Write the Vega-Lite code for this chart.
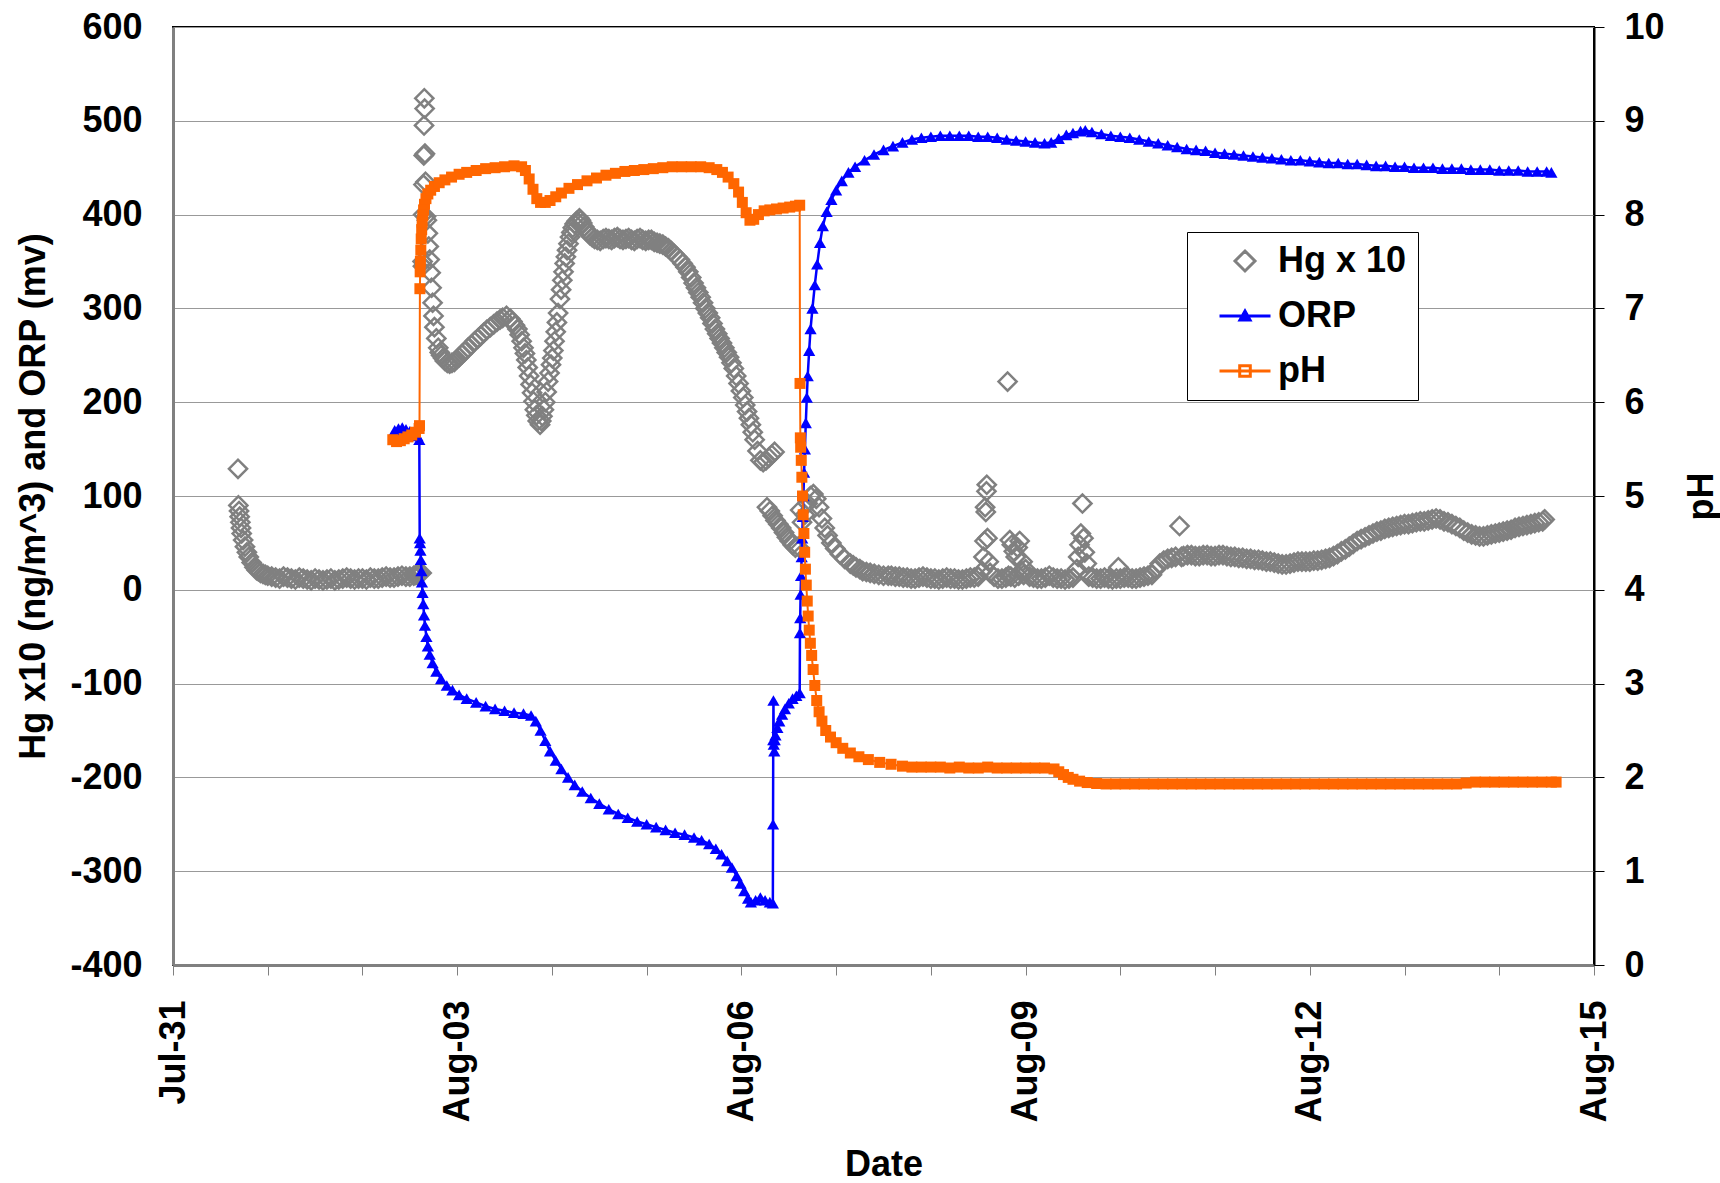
{
  "$schema": "https://vega.github.io/schema/vega-lite/v6.json",
  "width": 1421,
  "height": 938,
  "autosize": {"type": "none"},
  "padding": {"left": 173, "top": 27, "right": 126, "bottom": 218},
  "background": "#FFFFFF",
  "config": {
    "font": "Liberation Sans",
    "view": {"stroke": "#000000", "strokeWidth": 2},
    "axis": {
      "labelFont": "Liberation Sans", "labelFontSize": 36, "labelFontWeight": "bold", "labelColor": "#000000",
      "titleFont": "Liberation Sans", "titleFontSize": 36, "titleFontWeight": "bold", "titleColor": "#000000"
    }
  },
  "datasets": {
    "hg": [
      {"t":"2005-07-31 16:28","v":129},{"t":"2005-07-31 16:34","v":90},{"t":"2005-07-31 16:44","v":84},{"t":"2005-07-31 16:54","v":78},
      {"t":"2005-07-31 17:04","v":72},{"t":"2005-07-31 17:14","v":66},{"t":"2005-07-31 17:24","v":60},{"t":"2005-07-31 17:46","v":53},
      {"t":"2005-07-31 18:14","v":46},{"t":"2005-07-31 18:43","v":40},{"t":"2005-07-31 19:12","v":35},{"t":"2005-07-31 19:55","v":29},
      {"t":"2005-07-31 20:38","v":24},{"t":"2005-07-31 21:10","v":21},{"t":"2005-07-31 21:36","v":20},{"t":"2005-07-31 22:10","v":18},
      {"t":"2005-07-31 22:48","v":17},{"t":"2005-07-31 23:24","v":16},
      {"t":"2005-08-01 00:00","v":15},{"t":"2005-08-01 01:00","v":14},{"t":"2005-08-01 02:00","v":13},{"t":"2005-08-01 03:00","v":12},
      {"t":"2005-08-01 04:00","v":14},{"t":"2005-08-01 05:00","v":13},{"t":"2005-08-01 06:00","v":12},{"t":"2005-08-01 07:00","v":11},
      {"t":"2005-08-01 08:00","v":13},{"t":"2005-08-01 09:00","v":12},{"t":"2005-08-01 10:00","v":11},{"t":"2005-08-01 11:00","v":10},
      {"t":"2005-08-01 12:00","v":12},{"t":"2005-08-01 13:00","v":11},{"t":"2005-08-01 14:00","v":10},{"t":"2005-08-01 15:00","v":11},
      {"t":"2005-08-01 16:00","v":12},{"t":"2005-08-01 17:00","v":10},{"t":"2005-08-01 18:00","v":11},{"t":"2005-08-01 19:00","v":12},
      {"t":"2005-08-01 20:00","v":13},{"t":"2005-08-01 21:00","v":12},{"t":"2005-08-01 22:00","v":11},{"t":"2005-08-01 23:00","v":12},
      {"t":"2005-08-02 00:00","v":12},{"t":"2005-08-02 01:00","v":11},{"t":"2005-08-02 02:00","v":13},{"t":"2005-08-02 03:00","v":12},
      {"t":"2005-08-02 04:00","v":12},{"t":"2005-08-02 05:00","v":13},{"t":"2005-08-02 06:00","v":14},{"t":"2005-08-02 07:00","v":13},
      {"t":"2005-08-02 08:00","v":13},{"t":"2005-08-02 09:00","v":14},{"t":"2005-08-02 10:00","v":15},{"t":"2005-08-02 11:00","v":14},
      {"t":"2005-08-02 12:00","v":14},{"t":"2005-08-02 13:00","v":15},{"t":"2005-08-02 13:30","v":16},{"t":"2005-08-02 14:00","v":16},
      {"t":"2005-08-02 14:30","v":17},{"t":"2005-08-02 15:00","v":18},
      {"t":"2005-08-02 15:14","v":350},{"t":"2005-08-02 15:19","v":345},{"t":"2005-08-02 15:23","v":400},{"t":"2005-08-02 15:27","v":432},
      {"t":"2005-08-02 15:32","v":463},{"t":"2005-08-02 15:36","v":495},{"t":"2005-08-02 15:40","v":524},{"t":"2005-08-02 15:45","v":513},
      {"t":"2005-08-02 15:50","v":465},{"t":"2005-08-02 15:58","v":435},{"t":"2005-08-02 16:05","v":398},{"t":"2005-08-02 16:19","v":394},
      {"t":"2005-08-02 16:34","v":380},{"t":"2005-08-02 16:48","v":366},{"t":"2005-08-02 17:02","v":352},{"t":"2005-08-02 17:17","v":338},
      {"t":"2005-08-02 17:31","v":322},{"t":"2005-08-02 17:46","v":306},{"t":"2005-08-02 18:00","v":292},{"t":"2005-08-02 18:14","v":280},
      {"t":"2005-08-02 18:43","v":268},{"t":"2005-08-02 19:12","v":258},{"t":"2005-08-02 19:35","v":253},{"t":"2005-08-02 19:55","v":250},
      {"t":"2005-08-02 20:25","v":247},{"t":"2005-08-02 20:53","v":244},{"t":"2005-08-02 21:30","v":242},{"t":"2005-08-02 22:05","v":241},
      {"t":"2005-08-02 22:40","v":242},{"t":"2005-08-02 23:17","v":243},{"t":"2005-08-02 23:55","v":246},
      {"t":"2005-08-03 00:29","v":248},{"t":"2005-08-03 01:10","v":251},{"t":"2005-08-03 01:55","v":254},{"t":"2005-08-03 02:45","v":258},
      {"t":"2005-08-03 03:36","v":261},{"t":"2005-08-03 04:25","v":265},{"t":"2005-08-03 05:17","v":268},{"t":"2005-08-03 06:00","v":271},
      {"t":"2005-08-03 06:43","v":274},{"t":"2005-08-03 07:30","v":277},{"t":"2005-08-03 08:24","v":280},{"t":"2005-08-03 09:15","v":283},
      {"t":"2005-08-03 10:05","v":286},{"t":"2005-08-03 10:50","v":288},{"t":"2005-08-03 11:31","v":290},{"t":"2005-08-03 12:29","v":292},
      {"t":"2005-08-03 13:26","v":289},{"t":"2005-08-03 14:00","v":286},{"t":"2005-08-03 14:38","v":282},{"t":"2005-08-03 15:15","v":278},
      {"t":"2005-08-03 15:50","v":272},{"t":"2005-08-03 16:20","v":265},{"t":"2005-08-03 16:48","v":258},{"t":"2005-08-03 17:10","v":252},
      {"t":"2005-08-03 17:31","v":245},{"t":"2005-08-03 17:52","v":237},{"t":"2005-08-03 18:14","v":228},{"t":"2005-08-03 18:36","v":219},
      {"t":"2005-08-03 18:58","v":210},{"t":"2005-08-03 19:20","v":201},{"t":"2005-08-03 19:41","v":192},{"t":"2005-08-03 20:02","v":186},
      {"t":"2005-08-03 20:24","v":180},{"t":"2005-08-03 21:00","v":176},{"t":"2005-08-03 21:18","v":180},{"t":"2005-08-03 21:36","v":185},
      {"t":"2005-08-03 21:58","v":192},{"t":"2005-08-03 22:19","v":200},{"t":"2005-08-03 22:40","v":211},{"t":"2005-08-03 23:02","v":222},
      {"t":"2005-08-03 23:24","v":231},{"t":"2005-08-03 23:46","v":240},
      {"t":"2005-08-04 00:05","v":247},{"t":"2005-08-04 00:22","v":255},{"t":"2005-08-04 00:40","v":265},{"t":"2005-08-04 00:58","v":275},
      {"t":"2005-08-04 01:16","v":285},{"t":"2005-08-04 01:34","v":295},{"t":"2005-08-04 02:02","v":310},{"t":"2005-08-04 02:20","v":320},
      {"t":"2005-08-04 02:38","v":330},{"t":"2005-08-04 02:56","v":339},{"t":"2005-08-04 03:14","v":348},{"t":"2005-08-04 03:32","v":355},
      {"t":"2005-08-04 03:50","v":362},{"t":"2005-08-04 04:12","v":369},{"t":"2005-08-04 04:34","v":376},{"t":"2005-08-04 04:55","v":381},
      {"t":"2005-08-04 05:17","v":386},{"t":"2005-08-04 05:45","v":390},{"t":"2005-08-04 06:14","v":393},{"t":"2005-08-04 06:58","v":396},
      {"t":"2005-08-04 07:20","v":394},{"t":"2005-08-04 07:41","v":391},{"t":"2005-08-04 08:10","v":387},{"t":"2005-08-04 08:38","v":384},
      {"t":"2005-08-04 09:05","v":381},{"t":"2005-08-04 09:36","v":378},{"t":"2005-08-04 10:12","v":376},{"t":"2005-08-04 10:48","v":374},
      {"t":"2005-08-04 11:30","v":373},{"t":"2005-08-04 12:14","v":372},{"t":"2005-08-04 13:00","v":374},{"t":"2005-08-04 13:41","v":375},
      {"t":"2005-08-04 14:25","v":374},{"t":"2005-08-04 15:07","v":373},{"t":"2005-08-04 15:50","v":375},{"t":"2005-08-04 16:34","v":376},
      {"t":"2005-08-04 17:15","v":374},{"t":"2005-08-04 18:00","v":373},{"t":"2005-08-04 18:45","v":374},{"t":"2005-08-04 19:26","v":375},
      {"t":"2005-08-04 20:10","v":373},{"t":"2005-08-04 20:53","v":372},{"t":"2005-08-04 21:35","v":374},{"t":"2005-08-04 22:19","v":375},
      {"t":"2005-08-04 23:00","v":373},{"t":"2005-08-04 23:46","v":372},
      {"t":"2005-08-05 00:30","v":373},{"t":"2005-08-05 01:12","v":373},{"t":"2005-08-05 01:55","v":371},{"t":"2005-08-05 02:38","v":370},
      {"t":"2005-08-05 03:20","v":369},{"t":"2005-08-05 04:05","v":368},{"t":"2005-08-05 04:48","v":366},{"t":"2005-08-05 05:31","v":364},
      {"t":"2005-08-05 06:15","v":361},{"t":"2005-08-05 06:58","v":358},{"t":"2005-08-05 07:40","v":355},{"t":"2005-08-05 08:24","v":352},
      {"t":"2005-08-05 09:07","v":348},{"t":"2005-08-05 09:50","v":344},{"t":"2005-08-05 10:33","v":339},{"t":"2005-08-05 11:17","v":333},
      {"t":"2005-08-05 11:53","v":327},{"t":"2005-08-05 12:29","v":322},{"t":"2005-08-05 13:05","v":317},{"t":"2005-08-05 13:41","v":312},
      {"t":"2005-08-05 14:17","v":306},{"t":"2005-08-05 14:53","v":300},{"t":"2005-08-05 15:29","v":295},{"t":"2005-08-05 16:05","v":290},
      {"t":"2005-08-05 16:41","v":284},{"t":"2005-08-05 17:17","v":278},{"t":"2005-08-05 17:53","v":273},{"t":"2005-08-05 18:29","v":268},
      {"t":"2005-08-05 19:05","v":263},{"t":"2005-08-05 19:41","v":258},{"t":"2005-08-05 20:17","v":253},{"t":"2005-08-05 20:53","v":248},
      {"t":"2005-08-05 21:29","v":242},{"t":"2005-08-05 22:05","v":236},{"t":"2005-08-05 22:41","v":228},{"t":"2005-08-05 23:17","v":220},
      {"t":"2005-08-05 23:53","v":212},
      {"t":"2005-08-06 00:29","v":205},{"t":"2005-08-06 00:58","v":197},{"t":"2005-08-06 01:26","v":190},{"t":"2005-08-06 01:55","v":183},
      {"t":"2005-08-06 02:24","v":176},{"t":"2005-08-06 02:53","v":168},{"t":"2005-08-06 03:22","v":160},{"t":"2005-08-06 04:05","v":148},
      {"t":"2005-08-06 04:48","v":138},{"t":"2005-08-06 05:31","v":136},{"t":"2005-08-06 06:14","v":138},{"t":"2005-08-06 06:58","v":141},
      {"t":"2005-08-06 07:41","v":144},{"t":"2005-08-06 08:24","v":147},
      {"t":"2005-08-06 06:29","v":88},{"t":"2005-08-06 07:12","v":84},{"t":"2005-08-06 07:55","v":79},{"t":"2005-08-06 08:38","v":74},
      {"t":"2005-08-06 09:22","v":70},{"t":"2005-08-06 10:05","v":66},{"t":"2005-08-06 10:48","v":61},{"t":"2005-08-06 11:31","v":56},
      {"t":"2005-08-06 12:14","v":52},{"t":"2005-08-06 12:58","v":48},{"t":"2005-08-06 13:41","v":45},{"t":"2005-08-06 14:24","v":46},
      {"t":"2005-08-06 14:53","v":85},{"t":"2005-08-06 15:22","v":72},{"t":"2005-08-06 16:05","v":80},{"t":"2005-08-06 16:48","v":92},
      {"t":"2005-08-06 17:31","v":100},{"t":"2005-08-06 18:14","v":102},{"t":"2005-08-06 18:58","v":97},{"t":"2005-08-06 19:41","v":88},
      {"t":"2005-08-06 20:24","v":76},{"t":"2005-08-06 21:07","v":66},{"t":"2005-08-06 21:50","v":58},{"t":"2005-08-06 22:48","v":50},
      {"t":"2005-08-06 23:46","v":44},
      {"t":"2005-08-07 00:58","v":38},{"t":"2005-08-07 02:10","v":33},{"t":"2005-08-07 03:36","v":28},{"t":"2005-08-07 04:20","v":26},
      {"t":"2005-08-07 05:02","v":24},{"t":"2005-08-07 06:00","v":22},{"t":"2005-08-07 06:43","v":20},{"t":"2005-08-07 07:40","v":19},
      {"t":"2005-08-07 08:38","v":18},{"t":"2005-08-07 09:40","v":17},{"t":"2005-08-07 10:48","v":16},{"t":"2005-08-07 12:00","v":15},
      {"t":"2005-08-07 13:12","v":15},{"t":"2005-08-07 14:00","v":15},{"t":"2005-08-07 15:00","v":14},{"t":"2005-08-07 16:00","v":14},
      {"t":"2005-08-07 17:00","v":13},{"t":"2005-08-07 18:00","v":13},{"t":"2005-08-07 19:00","v":12},{"t":"2005-08-07 20:00","v":12},
      {"t":"2005-08-07 21:00","v":13},{"t":"2005-08-07 22:00","v":14},{"t":"2005-08-07 23:00","v":13},
      {"t":"2005-08-08 00:00","v":12},{"t":"2005-08-08 01:00","v":12},{"t":"2005-08-08 02:00","v":11},{"t":"2005-08-08 03:00","v":12},
      {"t":"2005-08-08 04:00","v":13},{"t":"2005-08-08 05:00","v":12},{"t":"2005-08-08 06:00","v":12},{"t":"2005-08-08 07:00","v":11},
      {"t":"2005-08-08 08:00","v":11},{"t":"2005-08-08 09:00","v":12},{"t":"2005-08-08 10:00","v":13},{"t":"2005-08-08 11:00","v":13},
      {"t":"2005-08-08 12:00","v":14},{"t":"2005-08-08 13:00","v":20},{"t":"2005-08-08 13:20","v":35},{"t":"2005-08-08 13:35","v":52},
      {"t":"2005-08-08 13:45","v":88},{"t":"2005-08-08 13:55","v":83},{"t":"2005-08-08 14:05","v":105},{"t":"2005-08-08 14:10","v":112},
      {"t":"2005-08-08 14:20","v":55},{"t":"2005-08-08 14:40","v":30},{"t":"2005-08-08 15:00","v":18},{"t":"2005-08-08 16:00","v":14},
      {"t":"2005-08-08 17:00","v":12},{"t":"2005-08-08 18:00","v":12},{"t":"2005-08-08 19:00","v":13},{"t":"2005-08-08 19:26","v":222},
      {"t":"2005-08-08 19:40","v":15},{"t":"2005-08-08 20:00","v":53},{"t":"2005-08-08 20:15","v":14},{"t":"2005-08-08 20:30","v":48},
      {"t":"2005-08-08 21:00","v":41},{"t":"2005-08-08 21:15","v":13},{"t":"2005-08-08 21:30","v":35},{"t":"2005-08-08 22:00","v":45},
      {"t":"2005-08-08 22:15","v":15},{"t":"2005-08-08 22:30","v":52},{"t":"2005-08-08 23:00","v":20},{"t":"2005-08-08 23:15","v":30},
      {"t":"2005-08-08 23:30","v":16},
      {"t":"2005-08-09 00:00","v":22},{"t":"2005-08-09 01:00","v":14},{"t":"2005-08-09 02:00","v":13},{"t":"2005-08-09 03:00","v":12},
      {"t":"2005-08-09 04:00","v":12},{"t":"2005-08-09 05:00","v":13},{"t":"2005-08-09 06:00","v":15},{"t":"2005-08-09 07:00","v":13},
      {"t":"2005-08-09 08:00","v":12},{"t":"2005-08-09 09:00","v":12},{"t":"2005-08-09 10:00","v":11},{"t":"2005-08-09 11:00","v":12},
      {"t":"2005-08-09 12:00","v":13},{"t":"2005-08-09 13:00","v":22},{"t":"2005-08-09 13:20","v":35},{"t":"2005-08-09 13:40","v":48},
      {"t":"2005-08-09 14:00","v":60},{"t":"2005-08-09 14:24","v":92},{"t":"2005-08-09 14:40","v":55},{"t":"2005-08-09 15:00","v":40},
      {"t":"2005-08-09 15:30","v":28},{"t":"2005-08-09 16:00","v":14},{"t":"2005-08-09 17:00","v":13},{"t":"2005-08-09 18:00","v":12},
      {"t":"2005-08-09 19:00","v":12},{"t":"2005-08-09 20:00","v":13},{"t":"2005-08-09 21:00","v":12},{"t":"2005-08-09 22:00","v":11},
      {"t":"2005-08-09 23:00","v":12},{"t":"2005-08-09 23:30","v":24},
      {"t":"2005-08-10 00:00","v":12},{"t":"2005-08-10 01:00","v":13},{"t":"2005-08-10 02:00","v":13},{"t":"2005-08-10 03:00","v":12},
      {"t":"2005-08-10 04:00","v":12},{"t":"2005-08-10 05:00","v":13},{"t":"2005-08-10 06:00","v":14},{"t":"2005-08-10 07:00","v":15},
      {"t":"2005-08-10 08:00","v":16},{"t":"2005-08-10 09:00","v":22},{"t":"2005-08-10 10:00","v":28},{"t":"2005-08-10 11:00","v":31},
      {"t":"2005-08-10 12:00","v":33},{"t":"2005-08-10 13:00","v":34},{"t":"2005-08-10 14:00","v":35},{"t":"2005-08-10 15:00","v":68},
      {"t":"2005-08-10 15:30","v":35},{"t":"2005-08-10 16:00","v":36},{"t":"2005-08-10 17:00","v":37},{"t":"2005-08-10 18:00","v":37},
      {"t":"2005-08-10 19:00","v":36},{"t":"2005-08-10 20:00","v":36},{"t":"2005-08-10 21:00","v":37},{"t":"2005-08-10 22:00","v":37},
      {"t":"2005-08-10 23:00","v":36},
      {"t":"2005-08-11 00:00","v":36},{"t":"2005-08-11 01:00","v":37},{"t":"2005-08-11 02:00","v":37},{"t":"2005-08-11 03:00","v":36},
      {"t":"2005-08-11 04:00","v":35},{"t":"2005-08-11 05:00","v":35},{"t":"2005-08-11 06:00","v":34},{"t":"2005-08-11 07:00","v":34},
      {"t":"2005-08-11 08:00","v":33},{"t":"2005-08-11 09:00","v":33},{"t":"2005-08-11 10:00","v":32},{"t":"2005-08-11 11:00","v":32},
      {"t":"2005-08-11 12:00","v":31},{"t":"2005-08-11 13:00","v":30},{"t":"2005-08-11 14:00","v":30},{"t":"2005-08-11 15:00","v":29},
      {"t":"2005-08-11 16:00","v":28},{"t":"2005-08-11 17:00","v":27},{"t":"2005-08-11 18:00","v":27},{"t":"2005-08-11 19:00","v":28},
      {"t":"2005-08-11 20:00","v":29},{"t":"2005-08-11 21:00","v":30},{"t":"2005-08-11 22:00","v":30},{"t":"2005-08-11 23:00","v":30},
      {"t":"2005-08-12 00:00","v":30},{"t":"2005-08-12 01:00","v":31},{"t":"2005-08-12 02:00","v":31},{"t":"2005-08-12 03:00","v":32},
      {"t":"2005-08-12 04:00","v":33},{"t":"2005-08-12 05:00","v":34},{"t":"2005-08-12 06:00","v":36},{"t":"2005-08-12 07:00","v":38},
      {"t":"2005-08-12 08:00","v":41},{"t":"2005-08-12 09:00","v":43},{"t":"2005-08-12 10:00","v":46},{"t":"2005-08-12 11:00","v":49},
      {"t":"2005-08-12 12:00","v":52},{"t":"2005-08-12 13:00","v":54},{"t":"2005-08-12 14:00","v":56},{"t":"2005-08-12 15:00","v":58},
      {"t":"2005-08-12 16:00","v":60},{"t":"2005-08-12 17:00","v":62},{"t":"2005-08-12 18:00","v":63},{"t":"2005-08-12 19:00","v":65},
      {"t":"2005-08-12 20:00","v":66},{"t":"2005-08-12 21:00","v":67},{"t":"2005-08-12 22:00","v":68},{"t":"2005-08-12 23:00","v":69},
      {"t":"2005-08-13 00:00","v":70},{"t":"2005-08-13 01:00","v":70},{"t":"2005-08-13 02:00","v":71},{"t":"2005-08-13 03:00","v":72},
      {"t":"2005-08-13 04:00","v":73},{"t":"2005-08-13 05:00","v":73},{"t":"2005-08-13 06:00","v":74},{"t":"2005-08-13 07:00","v":75},
      {"t":"2005-08-13 08:00","v":76},{"t":"2005-08-13 09:00","v":75},{"t":"2005-08-13 10:00","v":73},{"t":"2005-08-13 11:00","v":72},
      {"t":"2005-08-13 12:00","v":70},{"t":"2005-08-13 13:00","v":68},{"t":"2005-08-13 14:00","v":66},{"t":"2005-08-13 15:00","v":63},
      {"t":"2005-08-13 16:00","v":61},{"t":"2005-08-13 17:00","v":59},{"t":"2005-08-13 18:00","v":58},{"t":"2005-08-13 19:00","v":57},
      {"t":"2005-08-13 20:00","v":57},{"t":"2005-08-13 21:00","v":58},{"t":"2005-08-13 22:00","v":59},{"t":"2005-08-13 23:00","v":60},
      {"t":"2005-08-14 00:00","v":61},{"t":"2005-08-14 01:00","v":62},{"t":"2005-08-14 02:00","v":63},{"t":"2005-08-14 03:00","v":64},
      {"t":"2005-08-14 04:00","v":66},{"t":"2005-08-14 05:00","v":67},{"t":"2005-08-14 06:00","v":68},{"t":"2005-08-14 07:00","v":69},
      {"t":"2005-08-14 08:00","v":70},{"t":"2005-08-14 09:00","v":71},{"t":"2005-08-14 10:00","v":72},{"t":"2005-08-14 11:00","v":73},
      {"t":"2005-08-14 11:30","v":75}
    ],
    "orp": [
      {"t":"2005-08-02 08:10","v":170},{"t":"2005-08-02 09:07","v":172},{"t":"2005-08-02 10:05","v":173},{"t":"2005-08-02 11:02","v":171},
      {"t":"2005-08-02 12:00","v":169},{"t":"2005-08-02 12:58","v":167},{"t":"2005-08-02 13:55","v":164},{"t":"2005-08-02 14:24","v":160},
      {"t":"2005-08-02 14:30","v":55},{"t":"2005-08-02 14:36","v":50},{"t":"2005-08-02 14:41","v":42},{"t":"2005-08-02 14:48","v":32},
      {"t":"2005-08-02 14:56","v":20},{"t":"2005-08-02 15:04","v":8},{"t":"2005-08-02 15:13","v":-3},{"t":"2005-08-02 15:24","v":-15},
      {"t":"2005-08-02 15:36","v":-27},{"t":"2005-08-02 15:50","v":-38},{"t":"2005-08-02 16:12","v":-50},{"t":"2005-08-02 16:34","v":-60},
      {"t":"2005-08-02 17:02","v":-69},{"t":"2005-08-02 17:46","v":-78},{"t":"2005-08-02 18:43","v":-87},{"t":"2005-08-02 19:55","v":-95},
      {"t":"2005-08-02 21:22","v":-102},{"t":"2005-08-02 22:48","v":-107},
      {"t":"2005-08-03 00:29","v":-112},{"t":"2005-08-03 02:24","v":-116},{"t":"2005-08-03 04:48","v":-120},{"t":"2005-08-03 07:12","v":-124},
      {"t":"2005-08-03 09:36","v":-127},{"t":"2005-08-03 12:00","v":-129},{"t":"2005-08-03 14:24","v":-131},{"t":"2005-08-03 16:48","v":-132},
      {"t":"2005-08-03 18:43","v":-134},{"t":"2005-08-03 19:55","v":-140},{"t":"2005-08-03 21:07","v":-150},{"t":"2005-08-03 22:19","v":-161},
      {"t":"2005-08-03 23:31","v":-172},
      {"t":"2005-08-04 00:58","v":-182},{"t":"2005-08-04 02:24","v":-191},{"t":"2005-08-04 04:05","v":-200},{"t":"2005-08-04 05:46","v":-208},
      {"t":"2005-08-04 07:41","v":-215},{"t":"2005-08-04 09:50","v":-222},{"t":"2005-08-04 12:00","v":-228},{"t":"2005-08-04 14:24","v":-234},
      {"t":"2005-08-04 16:48","v":-239},{"t":"2005-08-04 19:12","v":-243},{"t":"2005-08-04 21:36","v":-247},
      {"t":"2005-08-05 00:00","v":-250},{"t":"2005-08-05 02:24","v":-253},{"t":"2005-08-05 04:48","v":-256},{"t":"2005-08-05 07:12","v":-259},
      {"t":"2005-08-05 09:36","v":-261},{"t":"2005-08-05 12:00","v":-264},{"t":"2005-08-05 13:55","v":-267},{"t":"2005-08-05 15:50","v":-271},
      {"t":"2005-08-05 17:31","v":-276},{"t":"2005-08-05 18:58","v":-282},{"t":"2005-08-05 20:24","v":-289},{"t":"2005-08-05 21:36","v":-296},
      {"t":"2005-08-05 22:48","v":-305},{"t":"2005-08-05 23:46","v":-313},
      {"t":"2005-08-06 00:43","v":-321},{"t":"2005-08-06 01:41","v":-329},{"t":"2005-08-06 02:24","v":-333},{"t":"2005-08-06 03:36","v":-331},
      {"t":"2005-08-06 04:48","v":-328},{"t":"2005-08-06 06:00","v":-331},{"t":"2005-08-06 07:12","v":-333},{"t":"2005-08-06 07:58","v":-334},
      {"t":"2005-08-06 08:01","v":-250},{"t":"2005-08-06 08:04","v":-160},{"t":"2005-08-06 08:07","v":-118},{"t":"2005-08-06 08:12","v":-165},
      {"t":"2005-08-06 08:20","v":-172},{"t":"2005-08-06 08:27","v":-160},{"t":"2005-08-06 08:38","v":-155},{"t":"2005-08-06 09:07","v":-147},
      {"t":"2005-08-06 09:36","v":-140},{"t":"2005-08-06 10:19","v":-133},{"t":"2005-08-06 11:02","v":-127},{"t":"2005-08-06 12:00","v":-121},
      {"t":"2005-08-06 12:58","v":-116},{"t":"2005-08-06 13:55","v":-113},{"t":"2005-08-06 14:46","v":-110},{"t":"2005-08-06 14:50","v":-46},
      {"t":"2005-08-06 14:54","v":-30},{"t":"2005-08-06 15:00","v":-5},{"t":"2005-08-06 15:07","v":15},{"t":"2005-08-06 15:16","v":35},
      {"t":"2005-08-06 15:24","v":55},{"t":"2005-08-06 15:33","v":78},{"t":"2005-08-06 15:43","v":100},{"t":"2005-08-06 15:53","v":125},
      {"t":"2005-08-06 16:05","v":150},{"t":"2005-08-06 16:19","v":178},{"t":"2005-08-06 16:34","v":205},{"t":"2005-08-06 16:48","v":228},
      {"t":"2005-08-06 17:10","v":255},{"t":"2005-08-06 17:31","v":278},{"t":"2005-08-06 18:00","v":300},{"t":"2005-08-06 18:36","v":325},
      {"t":"2005-08-06 19:12","v":347},{"t":"2005-08-06 19:55","v":370},{"t":"2005-08-06 20:38","v":388},{"t":"2005-08-06 21:36","v":403},
      {"t":"2005-08-06 22:48","v":416},
      {"t":"2005-08-07 00:00","v":426},{"t":"2005-08-07 01:26","v":436},{"t":"2005-08-07 03:07","v":445},{"t":"2005-08-07 04:48","v":451},
      {"t":"2005-08-07 07:12","v":458},{"t":"2005-08-07 09:36","v":464},{"t":"2005-08-07 12:00","v":469},{"t":"2005-08-07 14:24","v":473},
      {"t":"2005-08-07 16:48","v":477},{"t":"2005-08-07 19:12","v":480},{"t":"2005-08-07 21:36","v":482},
      {"t":"2005-08-08 00:00","v":483},{"t":"2005-08-08 02:24","v":484},{"t":"2005-08-08 04:48","v":484},{"t":"2005-08-08 07:12","v":484},
      {"t":"2005-08-08 09:36","v":484},{"t":"2005-08-08 12:00","v":483},{"t":"2005-08-08 14:24","v":483},{"t":"2005-08-08 16:48","v":482},
      {"t":"2005-08-08 19:12","v":480},{"t":"2005-08-08 21:36","v":479},
      {"t":"2005-08-09 00:00","v":478},{"t":"2005-08-09 02:24","v":477},{"t":"2005-08-09 04:48","v":476},{"t":"2005-08-09 06:29","v":477},
      {"t":"2005-08-09 08:24","v":481},{"t":"2005-08-09 10:19","v":485},{"t":"2005-08-09 12:00","v":487},{"t":"2005-08-09 13:55","v":489},
      {"t":"2005-08-09 15:07","v":490},{"t":"2005-08-09 16:48","v":488},{"t":"2005-08-09 19:12","v":486},{"t":"2005-08-09 21:36","v":484},
      {"t":"2005-08-10 00:00","v":483},{"t":"2005-08-10 02:24","v":482},{"t":"2005-08-10 04:48","v":480},{"t":"2005-08-10 07:12","v":478},
      {"t":"2005-08-10 09:36","v":476},{"t":"2005-08-10 12:00","v":474},{"t":"2005-08-10 14:24","v":472},{"t":"2005-08-10 16:48","v":470},
      {"t":"2005-08-10 19:12","v":469},{"t":"2005-08-10 21:36","v":468},
      {"t":"2005-08-11 00:00","v":466},{"t":"2005-08-11 02:24","v":465},{"t":"2005-08-11 04:48","v":464},{"t":"2005-08-11 07:12","v":463},
      {"t":"2005-08-11 09:36","v":462},{"t":"2005-08-11 12:00","v":461},{"t":"2005-08-11 14:24","v":460},{"t":"2005-08-11 16:48","v":459},
      {"t":"2005-08-11 19:12","v":458},{"t":"2005-08-11 21:36","v":458},
      {"t":"2005-08-12 00:00","v":457},{"t":"2005-08-12 02:24","v":456},{"t":"2005-08-12 04:48","v":455},{"t":"2005-08-12 07:12","v":455},
      {"t":"2005-08-12 09:36","v":454},{"t":"2005-08-12 12:00","v":454},{"t":"2005-08-12 14:24","v":453},{"t":"2005-08-12 16:48","v":452},
      {"t":"2005-08-12 19:12","v":452},{"t":"2005-08-12 21:36","v":451},
      {"t":"2005-08-13 00:00","v":451},{"t":"2005-08-13 02:24","v":450},{"t":"2005-08-13 04:48","v":450},{"t":"2005-08-13 07:12","v":450},
      {"t":"2005-08-13 09:36","v":449},{"t":"2005-08-13 12:00","v":449},{"t":"2005-08-13 14:24","v":449},{"t":"2005-08-13 16:48","v":448},
      {"t":"2005-08-13 19:12","v":448},{"t":"2005-08-13 21:36","v":448},
      {"t":"2005-08-14 00:00","v":447},{"t":"2005-08-14 02:24","v":447},{"t":"2005-08-14 04:48","v":447},{"t":"2005-08-14 07:12","v":446},
      {"t":"2005-08-14 09:36","v":446},{"t":"2005-08-14 12:00","v":446},{"t":"2005-08-14 13:12","v":445}
    ],
    "ph": [
      {"t":"2005-08-02 07:41","v":5.60},{"t":"2005-08-02 08:38","v":5.58},{"t":"2005-08-02 09:36","v":5.59},{"t":"2005-08-02 10:34","v":5.61},
      {"t":"2005-08-02 11:31","v":5.63},{"t":"2005-08-02 12:29","v":5.65},{"t":"2005-08-02 13:26","v":5.68},{"t":"2005-08-02 14:21","v":5.72},
      {"t":"2005-08-02 14:27","v":5.75},{"t":"2005-08-02 14:33","v":7.21},{"t":"2005-08-02 14:37","v":7.39},{"t":"2005-08-02 14:41","v":7.50},
      {"t":"2005-08-02 14:47","v":7.62},{"t":"2005-08-02 14:53","v":7.74},{"t":"2005-08-02 15:00","v":7.84},{"t":"2005-08-02 15:07","v":7.92},
      {"t":"2005-08-02 15:17","v":7.99},{"t":"2005-08-02 15:29","v":8.05},{"t":"2005-08-02 15:43","v":8.11},{"t":"2005-08-02 16:05","v":8.17},
      {"t":"2005-08-02 16:34","v":8.22},{"t":"2005-08-02 17:17","v":8.26},{"t":"2005-08-02 18:14","v":8.30},{"t":"2005-08-02 19:26","v":8.34},
      {"t":"2005-08-02 20:53","v":8.37},{"t":"2005-08-02 22:34","v":8.40},
      {"t":"2005-08-03 00:29","v":8.43},{"t":"2005-08-03 02:24","v":8.45},{"t":"2005-08-03 04:48","v":8.47},{"t":"2005-08-03 07:12","v":8.49},
      {"t":"2005-08-03 09:36","v":8.50},{"t":"2005-08-03 12:00","v":8.51},{"t":"2005-08-03 14:24","v":8.52},{"t":"2005-08-03 16:19","v":8.51},
      {"t":"2005-08-03 17:17","v":8.47},{"t":"2005-08-03 18:14","v":8.38},{"t":"2005-08-03 19:12","v":8.27},{"t":"2005-08-03 20:10","v":8.17},
      {"t":"2005-08-03 21:07","v":8.13},{"t":"2005-08-03 22:19","v":8.13},{"t":"2005-08-03 23:31","v":8.15},
      {"t":"2005-08-04 00:58","v":8.19},{"t":"2005-08-04 02:24","v":8.23},{"t":"2005-08-04 04:19","v":8.28},{"t":"2005-08-04 06:29","v":8.32},
      {"t":"2005-08-04 08:53","v":8.36},{"t":"2005-08-04 11:17","v":8.39},{"t":"2005-08-04 13:41","v":8.42},{"t":"2005-08-04 16:05","v":8.44},
      {"t":"2005-08-04 18:29","v":8.46},{"t":"2005-08-04 20:53","v":8.47},{"t":"2005-08-04 23:17","v":8.48},
      {"t":"2005-08-05 01:41","v":8.49},{"t":"2005-08-05 04:05","v":8.50},{"t":"2005-08-05 06:29","v":8.51},{"t":"2005-08-05 08:53","v":8.51},
      {"t":"2005-08-05 11:17","v":8.51},{"t":"2005-08-05 13:41","v":8.51},{"t":"2005-08-05 15:50","v":8.50},{"t":"2005-08-05 17:46","v":8.48},
      {"t":"2005-08-05 19:12","v":8.45},{"t":"2005-08-05 20:38","v":8.40},{"t":"2005-08-05 22:05","v":8.33},{"t":"2005-08-05 23:17","v":8.24},
      {"t":"2005-08-06 00:14","v":8.13},{"t":"2005-08-06 01:12","v":8.02},{"t":"2005-08-06 02:10","v":7.94},{"t":"2005-08-06 03:07","v":7.95},
      {"t":"2005-08-06 04:19","v":8.00},{"t":"2005-08-06 05:46","v":8.04},{"t":"2005-08-06 07:12","v":8.05},{"t":"2005-08-06 08:53","v":8.06},
      {"t":"2005-08-06 10:34","v":8.07},{"t":"2005-08-06 12:14","v":8.08},{"t":"2005-08-06 13:41","v":8.09},{"t":"2005-08-06 14:46","v":8.10},
      {"t":"2005-08-06 14:51","v":6.20},{"t":"2005-08-06 14:56","v":5.62},{"t":"2005-08-06 15:01","v":5.52},{"t":"2005-08-06 15:10","v":5.38},
      {"t":"2005-08-06 15:19","v":5.20},{"t":"2005-08-06 15:29","v":5.00},{"t":"2005-08-06 15:39","v":4.80},{"t":"2005-08-06 15:50","v":4.60},
      {"t":"2005-08-06 16:02","v":4.40},{"t":"2005-08-06 16:13","v":4.22},{"t":"2005-08-06 16:26","v":4.05},{"t":"2005-08-06 16:41","v":3.88},
      {"t":"2005-08-06 16:55","v":3.72},{"t":"2005-08-06 17:11","v":3.57},{"t":"2005-08-06 17:28","v":3.43},{"t":"2005-08-06 17:48","v":3.30},
      {"t":"2005-08-06 18:10","v":3.15},{"t":"2005-08-06 18:36","v":2.98},{"t":"2005-08-06 19:05","v":2.82},{"t":"2005-08-06 19:41","v":2.70},
      {"t":"2005-08-06 20:24","v":2.60},{"t":"2005-08-06 21:22","v":2.50},{"t":"2005-08-06 22:34","v":2.43},
      {"t":"2005-08-07 00:00","v":2.37},{"t":"2005-08-07 01:41","v":2.31},{"t":"2005-08-07 03:36","v":2.26},{"t":"2005-08-07 05:46","v":2.22},
      {"t":"2005-08-07 08:10","v":2.19},{"t":"2005-08-07 11:02","v":2.16},{"t":"2005-08-07 13:55","v":2.14},{"t":"2005-08-07 16:48","v":2.12},
      {"t":"2005-08-07 19:12","v":2.11},{"t":"2005-08-07 21:36","v":2.11},
      {"t":"2005-08-08 00:00","v":2.11},{"t":"2005-08-08 02:24","v":2.11},{"t":"2005-08-08 04:48","v":2.10},{"t":"2005-08-08 07:12","v":2.11},
      {"t":"2005-08-08 09:36","v":2.10},{"t":"2005-08-08 12:00","v":2.10},{"t":"2005-08-08 14:24","v":2.11},{"t":"2005-08-08 16:48","v":2.10},
      {"t":"2005-08-08 19:12","v":2.10},{"t":"2005-08-08 21:36","v":2.10},
      {"t":"2005-08-09 00:00","v":2.10},{"t":"2005-08-09 02:24","v":2.10},{"t":"2005-08-09 04:48","v":2.10},{"t":"2005-08-09 07:12","v":2.09},
      {"t":"2005-08-09 08:24","v":2.06},{"t":"2005-08-09 09:36","v":2.03},{"t":"2005-08-09 10:48","v":2.00},{"t":"2005-08-09 12:00","v":1.98},
      {"t":"2005-08-09 13:41","v":1.96},{"t":"2005-08-09 15:36","v":1.945},{"t":"2005-08-09 18:00","v":1.935},{"t":"2005-08-09 20:24","v":1.93},
      {"t":"2005-08-09 22:48","v":1.93},
      {"t":"2005-08-10 01:12","v":1.93},{"t":"2005-08-10 03:36","v":1.93},{"t":"2005-08-10 06:00","v":1.93},{"t":"2005-08-10 08:24","v":1.93},
      {"t":"2005-08-10 10:48","v":1.93},{"t":"2005-08-10 13:12","v":1.93},{"t":"2005-08-10 15:36","v":1.93},{"t":"2005-08-10 18:00","v":1.93},
      {"t":"2005-08-10 20:24","v":1.93},{"t":"2005-08-10 22:48","v":1.93},
      {"t":"2005-08-11 01:12","v":1.93},{"t":"2005-08-11 03:36","v":1.93},{"t":"2005-08-11 06:00","v":1.93},{"t":"2005-08-11 08:24","v":1.93},
      {"t":"2005-08-11 10:48","v":1.93},{"t":"2005-08-11 13:12","v":1.93},{"t":"2005-08-11 15:36","v":1.93},{"t":"2005-08-11 18:00","v":1.93},
      {"t":"2005-08-11 20:24","v":1.93},{"t":"2005-08-11 22:48","v":1.93},
      {"t":"2005-08-12 01:12","v":1.93},{"t":"2005-08-12 03:36","v":1.93},{"t":"2005-08-12 06:00","v":1.93},{"t":"2005-08-12 08:24","v":1.93},
      {"t":"2005-08-12 10:48","v":1.93},{"t":"2005-08-12 13:12","v":1.93},{"t":"2005-08-12 15:36","v":1.93},{"t":"2005-08-12 18:00","v":1.93},
      {"t":"2005-08-12 20:24","v":1.93},{"t":"2005-08-12 22:48","v":1.93},
      {"t":"2005-08-13 01:12","v":1.93},{"t":"2005-08-13 03:36","v":1.93},{"t":"2005-08-13 06:00","v":1.93},{"t":"2005-08-13 08:24","v":1.93},
      {"t":"2005-08-13 10:48","v":1.93},{"t":"2005-08-13 13:12","v":1.93},{"t":"2005-08-13 15:36","v":1.94},{"t":"2005-08-13 18:00","v":1.95},
      {"t":"2005-08-13 20:24","v":1.95},{"t":"2005-08-13 22:48","v":1.95},
      {"t":"2005-08-14 01:12","v":1.95},{"t":"2005-08-14 03:36","v":1.95},{"t":"2005-08-14 06:00","v":1.95},{"t":"2005-08-14 08:24","v":1.95},
      {"t":"2005-08-14 10:48","v":1.95},{"t":"2005-08-14 13:12","v":1.95},{"t":"2005-08-14 14:24","v":1.95}
    ]
  },
  "encoding": {
    "x": {
      "field": "t",
      "type": "temporal",
      "scale": {"domain": [{"year": 2005, "month": 7, "date": 31}, {"year": 2005, "month": 8, "date": 15}]},
      "axis": {
        "title": "Date",
        "tickCount": {"interval": "day", "step": 1},
        "labelExpr": "round((datum.value - datetime(2005, 6, 31)) / 86400000) % 3 == 0 ? timeFormat(datum.value, '%b-%d') : ''",
        "labelAngle": 270,
        "labelOverlap": false,
        "labelFlush": false,
        "labelBound": false,
        "labelPadding": 25,
        "tickSize": 10,
        "tickColor": "#808080",
        "tickWidth": 1,
        "domainColor": "#808080",
        "domainWidth": 3,
        "grid": false,
        "titlePadding": 25
      }
    }
  },
  "layer": [
    {
      "encoding": {
        "y": {
          "field": "v",
          "type": "quantitative",
          "scale": {"domain": [-400, 600], "nice": false, "zero": false},
          "axis": {
            "title": "Hg x10 (ng/m^3) and ORP (mv)",
            "values": [-400, -300, -200, -100, 0, 100, 200, 300, 400, 500, 600],
            "labelExpr": "'' + datum.value",
            "grid": true,
            "gridColor": "#999999",
            "gridWidth": 1,
            "ticks": false,
            "tickSize": 0,
            "labelPadding": 31,
            "domainColor": "#808080",
            "domainWidth": 3,
            "titlePadding": 17
          }
        }
      },
      "layer": [
        {
          "data": {"name": "hg"},
          "mark": {"type": "point", "shape": "diamond", "filled": false, "size": 330, "color": "#808080", "strokeWidth": 2.5, "opacity": 1}
        },
        {
          "data": {"name": "orp"},
          "mark": {
            "type": "line", "color": "#0000FF", "strokeWidth": 2.5,
            "point": {"shape": "triangle-up", "size": 150, "filled": true, "color": "#0000FF", "opacity": 1}
          }
        },
        {
          "data": {"name": "hg"},
          "mark": {"type": "point", "filled": false, "opacity": 0, "strokeWidth": 3, "size": 400},
          "encoding": {
            "color": {
              "datum": "Hg x 10",
              "scale": {"domain": ["Hg x 10", "ORP", "pH"], "range": ["#808080", "#0000FF", "#FF6600"]},
              "legend": {
                "title": null, "orient": "none", "legendX": 1014, "legendY": 205, "direction": "vertical",
                "fillColor": "#FFFFFF", "strokeColor": "#000000", "padding": 11,
                "symbolSize": 400, "symbolStrokeWidth": 3, "symbolOffset": 29, "labelOffset": 15,
                "labelFont": "Liberation Sans", "labelFontSize": 36, "labelFontWeight": "bold", "labelColor": "#000000",
                "labelExpr": "datum.label + '\u00a0\u00a0'",
                "rowPadding": 19
              }
            },
            "shape": {
              "datum": "Hg x 10",
              "scale": {
                "domain": ["Hg x 10", "ORP", "pH"],
                "range": [
                  "M0,-1L1,0L0,1L-1,0Z",
                  "M-2.55,0H2.55M-0.5,0.4L0,-0.5L0.5,0.4ZM-0.25,0.2L0,-0.25L0.25,0.2Z",
                  "M-2.55,0H2.55M-0.53,-0.53H0.53V0.53H-0.53Z"
                ]
              },
              "legend": {
                "title": null, "orient": "none", "legendX": 1014, "legendY": 205, "direction": "vertical",
                "fillColor": "#FFFFFF", "strokeColor": "#000000", "padding": 11,
                "symbolSize": 400, "symbolStrokeWidth": 3, "symbolOffset": 29, "labelOffset": 15,
                "labelFont": "Liberation Sans", "labelFontSize": 36, "labelFontWeight": "bold", "labelColor": "#000000",
                "labelExpr": "datum.label + '\u00a0\u00a0'",
                "rowPadding": 19
              }
            }
          }
        }
      ]
    },
    {
      "data": {"name": "ph"},
      "mark": {
        "type": "line", "color": "#FF6600", "strokeWidth": 2,
        "point": {"shape": "square", "size": 121, "filled": true, "color": "#FF6600", "opacity": 1}
      },
      "encoding": {
        "y": {
          "field": "v",
          "type": "quantitative",
          "scale": {"domain": [0, 10], "nice": false},
          "axis": {
            "orient": "right",
            "title": "pH",
            "values": [0, 1, 2, 3, 4, 5, 6, 7, 8, 9, 10],
            "grid": false,
            "ticks": true,
            "tickSize": 10,
            "tickColor": "#000000",
            "tickWidth": 1,
            "labelPadding": 20,
            "domainColor": "#000000",
            "domainWidth": 2,
            "titleAngle": 270,
            "titleBaseline": "top",
            "titlePadding": 20
          }
        }
      }
    }
  ],
  "resolve": {"scale": {"y": "independent"}}
}
